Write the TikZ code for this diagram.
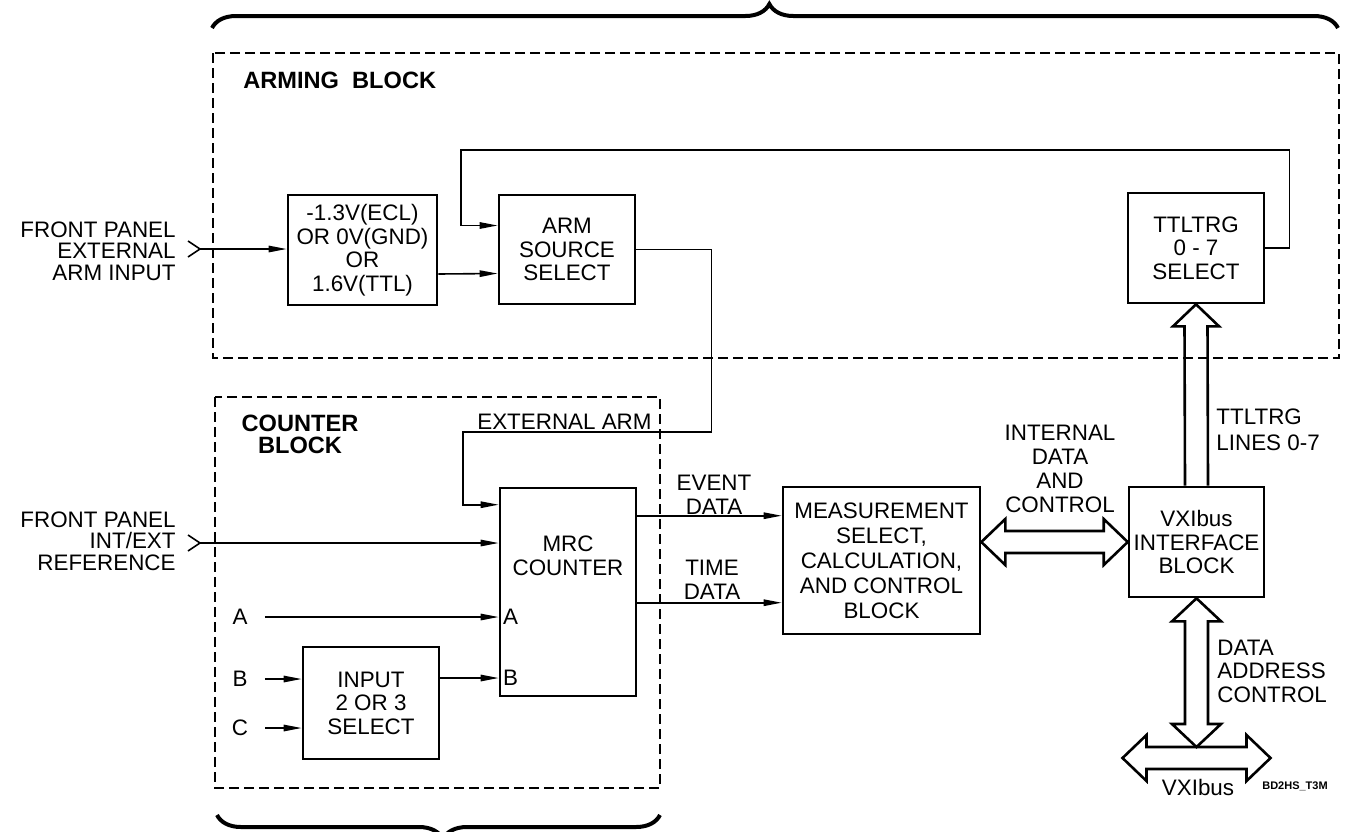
\documentclass[tikz,border=0pt]{standalone}
\usepackage{fontspec}
\setmainfont{Liberation Sans}
\usetikzlibrary{arrows.meta,calc,decorations.pathreplacing,positioning}
\tikzset{
  hp diagram/.style={x=0.5pt, y=-0.5pt, font=\fontsize{11.2}{11.8}\selectfont,
    line join=miter},
  hp box/.style={draw, line width=1.3pt, align=center, inner sep=0pt},
  hp group/.style={draw, line width=0.7pt, dash pattern=on 5pt off 2.5pt},
  hp title/.style={font=\fontsize{11.8}{11}\selectfont\bfseries, align=center, inner sep=0pt},
  hp label/.style={align=center, inner sep=0pt},
  hp wire/.style={line width=0.8pt},
  hp arrow/.style={hp wire, -{Triangle[length=9pt,width=3.2pt]}},
  hp bus/.style={draw, line width=1.3pt},
  hp brace/.style={decorate, line width=2pt, decoration={brace, amplitude=12pt}}
}

\begin{document}
\begin{tikzpicture}[hp diagram]
\useasboundingbox (0,0) rectangle (1348,831);
% braces and groups
\draw[hp brace, decoration={aspect=0.495}] (212,28) -- (1338,28);
\draw[hp brace, decoration={aspect=0.49}] (660,815) -- (217,815);
\draw[hp group] (213,53) rectangle (1339,358);
\draw[hp group] (215,397) rectangle (660,788);
\node[hp title, anchor=west] (armtitle) at (243,80) {ARMING\ \ BLOCK};
\node[hp title] (cnttitle) at (300,434) {COUNTER\\BLOCK};

% blocks
\node[hp box, minimum width=74.5pt, minimum height=55pt] (lvl) at (362.5,250) {-1.3V(ECL)\\OR 0V(GND)\\OR\\1.6V(TTL)};
\node[hp box, minimum width=68pt, minimum height=54.5pt] (armsrc) at (567,249.5) {ARM\\SOURCE\\SELECT};
\node[hp box, minimum width=68pt, minimum height=55pt] (ttl) at (1196,248) {TTLTRG\\0 - 7\\SELECT};
\node[hp box, minimum width=68pt, minimum height=104pt] (mrc) at (568,592) {};
\node[hp label] (mrctxt) at (568,556) {MRC\\COUNTER};
\node[hp box, minimum width=68pt, minimum height=56pt] (inp) at (371,703) {INPUT\\2 OR 3\\SELECT};
\node[hp box, minimum width=98.5pt, minimum height=73.5pt, font=\fontsize{11.2}{12.5}\selectfont] (meas) at (881.5,560.5) {MEASUREMENT\\SELECT,\\CALCULATION,\\AND CONTROL\\BLOCK};
\node[hp box, minimum width=67.5pt, minimum height=55pt] (vxi) at (1196.5,542) {VXIbus\\INTERFACE\\BLOCK};

% front panel inputs
\node[hp label, align=right, anchor=east, font=\fontsize{11.2}{10.8}\selectfont] (armtxt) at (176,251) {FRONT PANEL\\EXTERNAL\\ARM INPUT};
\coordinate (armin) at (200,249);
\draw[hp wire] (188,241) -- (armin) -- (188,257);
\draw[hp arrow] (armin) -- (armin -| lvl.west);
\node[hp label, align=right, anchor=east, font=\fontsize{11.2}{10.8}\selectfont] (reftxt) at (176,541) {FRONT PANEL\\INT/EXT\\REFERENCE};
\coordinate (refin) at (200,543);
\draw[hp wire] (188,535) -- (refin) -- (188,551);
\draw[hp arrow] (refin) -- (refin -| mrc.west);

% arming paths
\draw[hp arrow] ($(lvl.east)+(0,24)$) -- ($(armsrc.west)+(0,24)$);
\draw[hp arrow] (ttl.east) -- ++(24,0) |- (461,150) |- ($(armsrc.west)+(0,-24)$);
\draw[hp arrow] (armsrc.east) -- ++(75,0) |- (463,432) |- ($(mrc.north west)+(0,18)$);
\node[hp label, anchor=south east] (extarm) at (652,430) {EXTERNAL ARM};

% channel inputs
\node[hp label] (ina) at (240,617) {A};
\node[hp label] (inb) at (240,679) {B};
\node[hp label] (inc) at (240,728) {C};
\draw[hp arrow] ([xshift=8.5pt]ina.east) -- (ina -| mrc.west);
\draw[hp arrow] ([xshift=8.5pt]inb.east) -- (inb -| inp.west);
\draw[hp arrow] ([xshift=8.5pt]inc.east) -- (inc -| inp.west);
\coordinate (bsel) at ($(inp.east)+(0,-25)$);
\draw[hp arrow] (bsel) -- (bsel -| mrc.west);
\node[hp label, anchor=west] (pina) at ([xshift=2pt]ina -| mrc.west) {A};
\node[hp label, anchor=west] (pinb) at ([xshift=2pt]bsel -| mrc.west) {B};

% counter data
\draw[hp arrow] ($(mrc.north east)+(0,29)$) -- ($(meas.north west)+(0,30)$);
\draw[hp arrow] ($(mrc.north east)+(0,116)$) -- ($(meas.north west)+(0,117)$);
\node[hp label] (evlbl) at (714,495) {EVENT\\DATA};
\node[hp label] (tmlbl) at (712,580) {TIME\\DATA};

% internal bus
\coordinate (idc) at (meas.east |- vxi.west);
\draw[hp bus] (idc) -- ++(24,-23) -- ++(0,12) -- ($(vxi.west)+(-24,-11)$) -- ++(0,-12)
  -- (vxi.west) -- ++(-24,23) -- ++(0,-12) -- ($(idc)+(24,11)$) -- ++(0,12) -- cycle;
\node[hp label, font=\fontsize{11.2}{12}\selectfont] (idclbl) at (1060,469) {INTERNAL\\DATA\\AND\\CONTROL};

% ttltrg lines
\draw[hp bus] ($(vxi.north)+(-11.5,0)$) -- ($(ttl.south)+(-11.5,22)$) -- ++(-11.5,0)
  -- (ttl.south) -- ++(23,22) -- ++(-11.5,0) -- ($(vxi.north)+(11.5,0)$);
\node[hp label, align=left, anchor=west, font=\fontsize{11.2}{13}\selectfont] (trglbl) at (1216,430) {TTLTRG\\LINES 0-7};

% vxibus
\coordinate (bustop) at (vxi.south |- 0,747);
\coordinate (busc) at ($(bustop)+(0,11)$);
\draw[hp bus] (vxi.south) -- ++(24.5,23) -- ++(-13,0) -- ($(bustop)+(11.5,-23)$) -- ++(13,0)
  -- (bustop) -- ++(-24.5,-23) -- ++(13,0) -- ($(vxi.south)+(-11.5,23)$) -- ++(-13,0) -- cycle;
\draw[hp bus] ($(busc)+(-74,0)$) -- ++(24,-23) -- ++(0,12) -- ++(100,0) -- ++(0,-12) -- ++(24,23)
  -- ++(-24,23) -- ++(0,-12) -- ++(-100,0) -- ++(0,12) -- cycle;
\node[hp label, align=left, anchor=west] (daclbl) at (1217,671) {DATA\\ADDRESS\\CONTROL};
\node[hp label] (buslbl) at (1198,787) {VXIbus};
\node[hp label, font=\fontsize{5.5}{6}\selectfont\bfseries] (figid) at (1295,786) {BD2HS\_T3M};
\end{tikzpicture}
\end{document}
